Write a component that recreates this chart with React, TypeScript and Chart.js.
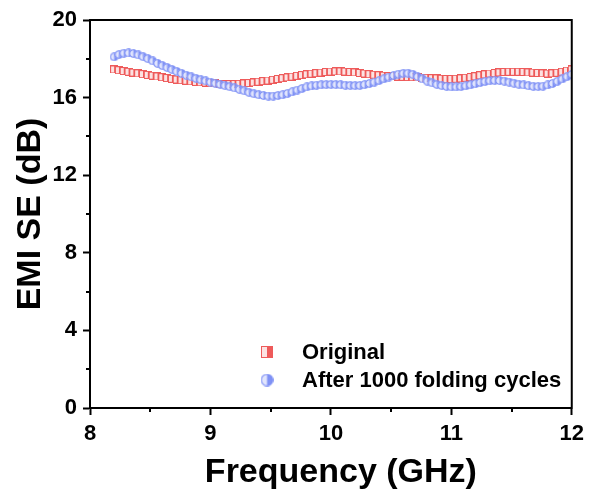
import React, { useEffect, useRef } from "react";
import { Chart, registerables } from "chart.js";

Chart.register(...registerables);

// ---- data ----
const frequencyGHz = [
  8.20, 8.24, 8.28, 8.32, 8.36, 8.40, 8.44, 8.48, 8.52, 8.56,
  8.60, 8.64, 8.68, 8.72, 8.76, 8.80, 8.84, 8.88, 8.92, 8.96,
  9.00, 9.04, 9.08, 9.12, 9.16, 9.20, 9.24, 9.28, 9.32, 9.36,
  9.40, 9.44, 9.48, 9.52, 9.56, 9.60, 9.64, 9.68, 9.72, 9.76,
  9.80, 9.84, 9.88, 9.92, 9.96, 10.00, 10.04, 10.08, 10.12, 10.16,
  10.20, 10.24, 10.28, 10.32, 10.36, 10.40, 10.44, 10.48, 10.52, 10.56,
  10.60, 10.64, 10.68, 10.72, 10.76, 10.80, 10.84, 10.88, 10.92, 10.96,
  11.00, 11.04, 11.08, 11.12, 11.16, 11.20, 11.24, 11.28, 11.32, 11.36,
  11.40, 11.44, 11.48, 11.52, 11.56, 11.60, 11.64, 11.68, 11.72, 11.76,
  11.80, 11.84, 11.88, 11.92, 11.96, 12.00,
];

const originalSE = [
  17.45, 17.41, 17.37, 17.33, 17.29, 17.25, 17.21, 17.17, 17.13, 17.09,
  17.05, 17.01, 16.97, 16.93, 16.90, 16.87, 16.84, 16.81, 16.79, 16.77,
  16.75, 16.73, 16.71, 16.70, 16.70, 16.70, 16.71, 16.73, 16.75, 16.78,
  16.82, 16.85, 16.88, 16.92, 16.96, 17.00, 17.04, 17.08, 17.12, 17.16,
  17.20, 17.23, 17.26, 17.29, 17.32, 17.34, 17.35, 17.35, 17.34, 17.32,
  17.30, 17.27, 17.24, 17.21, 17.18, 17.15, 17.13, 17.11, 17.09, 17.08,
  17.07, 17.06, 17.05, 17.04, 17.03, 17.02, 17.00, 16.99, 16.97, 16.96,
  16.96, 16.97, 16.99, 17.02, 17.06, 17.10, 17.15, 17.20, 17.24, 17.27,
  17.30, 17.32, 17.33, 17.33, 17.33, 17.32, 17.30, 17.29, 17.27, 17.25,
  17.24, 17.25, 17.28, 17.33, 17.39, 17.45,
];

const foldedSE = [
  18.10, 18.22, 18.29, 18.30, 18.27, 18.20, 18.11, 18.01, 17.89, 17.77,
  17.65, 17.55, 17.45, 17.35, 17.25, 17.15, 17.07, 16.99, 16.92, 16.86,
  16.80, 16.74, 16.68, 16.62, 16.56, 16.50, 16.43, 16.35, 16.27, 16.20,
  16.15, 16.11, 16.08, 16.08, 16.11, 16.15, 16.22, 16.30, 16.39, 16.47,
  16.55, 16.60, 16.64, 16.66, 16.67, 16.68, 16.67, 16.66, 16.64, 16.63,
  16.62, 16.63, 16.67, 16.73, 16.80, 16.88, 16.97, 17.06, 17.14, 17.21,
  17.25, 17.26, 17.20, 17.08, 16.96, 16.85, 16.76, 16.68, 16.62, 16.58,
  16.55, 16.55, 16.57, 16.61, 16.66, 16.72, 16.78, 16.83, 16.87, 16.89,
  16.88, 16.85, 16.80, 16.74, 16.69, 16.65, 16.61, 16.58, 16.57, 16.59,
  16.65, 16.73, 16.84, 16.96, 17.08, 17.20,
];

const seriesLabels = ["Original", "After 1000 folding cycles"];
const xAxisTitle = "Frequency (GHz)";
const yAxisTitle = "EMI SE (dB)";
const xTickValues = [8, 9, 10, 11, 12];
const xMinorTicks = [8.5, 9.5, 10.5, 11.5];
const yTickValues = [0, 4, 8, 12, 16, 20];
const yMinorTicks = [2, 6, 10, 14, 18];

// ---- styles ----
const FONT = "'Liberation Sans', Arial, sans-serif";
const RED = "#EE5A5A";
const RED_LIGHT = "#FCE2E2";
const BLUE = "#7F91F5";
const BLUE_LIGHT = "#E1E5FD";

function makeSquare(size: number, solid: string, light: string) {
  const c = document.createElement("canvas");
  c.width = size;
  c.height = size;
  const g = c.getContext("2d")!;
  g.fillStyle = light;
  g.fillRect(0, 0, size, size);
  g.fillStyle = solid;
  g.fillRect(size / 2, 0, size / 2, size);
  g.strokeStyle = solid;
  g.lineWidth = 1;
  g.strokeRect(0.5, 0.5, size - 1, size - 1);
  return c;
}

function makeCircle(size: number, solid: string, light: string) {
  const c = document.createElement("canvas");
  c.width = size;
  c.height = size;
  const g = c.getContext("2d")!;
  const r = size / 2;
  g.beginPath();
  g.moveTo(r, r);
  g.arc(r, r, r - 0.5, Math.PI / 2, Math.PI * 1.5);
  g.closePath();
  g.fillStyle = light;
  g.fill();
  g.beginPath();
  g.moveTo(r, r);
  g.arc(r, r, r - 0.5, -Math.PI / 2, Math.PI / 2);
  g.closePath();
  g.fillStyle = solid;
  g.fill();
  g.beginPath();
  g.arc(r, r, r - 0.75, 0, Math.PI * 2);
  g.strokeStyle = solid;
  g.lineWidth = 1.2;
  g.stroke();
  return c;
}

const frameAndLegend = {
  id: "frameAndLegend",
  afterDraw(chart: any) {
    const { ctx, chartArea } = chart;
    const xs = chart.scales.x;
    const ys = chart.scales.y;
    ctx.save();
    ctx.strokeStyle = "#000";
    ctx.lineWidth = 2;
    // top and right frame
    ctx.beginPath();
    ctx.moveTo(chartArea.left - 1, chartArea.top);
    ctx.lineTo(chartArea.right, chartArea.top);
    ctx.lineTo(chartArea.right, chartArea.bottom + 1);
    ctx.stroke();
    // minor ticks
    ctx.beginPath();
    for (const v of xMinorTicks) {
      const px = Math.round(xs.getPixelForValue(v));
      ctx.moveTo(px, chartArea.bottom);
      ctx.lineTo(px, chartArea.bottom + 4);
    }
    for (const v of yMinorTicks) {
      const py = Math.round(ys.getPixelForValue(v));
      ctx.moveTo(chartArea.left, py);
      ctx.lineTo(chartArea.left - 4, py);
    }
    ctx.stroke();
    // x axis title
    ctx.fillStyle = "#000";
    ctx.font = `bold 34px ${FONT}`;
    ctx.textAlign = "center";
    ctx.textBaseline = "alphabetic";
    ctx.fillText(xAxisTitle, xs.getPixelForValue(10) + 10, 482);
    // legend
    const markers = [makeSquare(12, RED, RED_LIGHT), makeCircle(13, BLUE, BLUE_LIGHT)];
    const rows = [352, 380];
    ctx.font = `bold 22px ${FONT}`;
    ctx.textBaseline = "middle";
    ctx.textAlign = "left";
    seriesLabels.forEach((label, i) => {
      const m = markers[i];
      ctx.drawImage(m, 267 - m.width / 2, rows[i] - m.height / 2);
      ctx.fillText(label, 302, rows[i] + 1);
    });
    ctx.restore();
  },
};

export default function App() {
  const canvasRef = useRef<HTMLCanvasElement | null>(null);

  useEffect(() => {
    if (!canvasRef.current) return;
    const redSquare = makeSquare(8, RED, RED_LIGHT);
    const blueCircle = makeCircle(9, BLUE, BLUE_LIGHT);
    const chart = new Chart(canvasRef.current, {
      type: "scatter",
      data: {
        datasets: [
          {
            label: seriesLabels[0],
            data: frequencyGHz.map((f, i) => ({ x: f, y: originalSE[i] })),
            pointStyle: redSquare as any,
            pointRadius: 4,
            showLine: false,
            order: 1,
          },
          {
            label: seriesLabels[1],
            data: frequencyGHz.map((f, i) => ({ x: f, y: foldedSE[i] })),
            pointStyle: blueCircle as any,
            pointRadius: 4,
            showLine: false,
            order: 0,
          },
        ],
      },
      options: {
        animation: false,
        responsive: false,
        events: [],
        layout: { padding: { top: 20, right: 16, left: 0, bottom: 0 } },
        plugins: { legend: { display: false }, tooltip: { enabled: false } },
        scales: {
          x: {
            type: "linear",
            min: 8,
            max: 12,
            afterFit: (s: any) => {
              s.height = 83;
            },
            afterBuildTicks: (s: any) => {
              s.ticks = xTickValues.map((v) => ({ value: v }));
            },
            ticks: {
              color: "#000",
              font: { family: FONT, size: 22, weight: "bold" },
              padding: 6,
              maxRotation: 0,
            },
            grid: { drawOnChartArea: false, tickLength: 7, tickColor: "#000", tickWidth: 2 },
            border: { color: "#000", width: 2 },
            title: { display: false },
          },
          y: {
            type: "linear",
            min: 0,
            max: 20,
            afterFit: (s: any) => {
              s.width = 90;
            },
            afterBuildTicks: (s: any) => {
              s.ticks = yTickValues.map((v) => ({ value: v }));
            },
            ticks: {
              color: "#000",
              font: { family: FONT, size: 22, weight: "bold" },
              padding: 6,
            },
            grid: { drawOnChartArea: false, tickLength: 7, tickColor: "#000", tickWidth: 2 },
            border: { color: "#000", width: 2 },
            title: {
              display: true,
              text: yAxisTitle,
              color: "#000",
              font: { family: FONT, size: 34, weight: "bold" },
              padding: { top: 10, bottom: 0 },
            },
          },
        },
      },
      plugins: [frameAndLegend],
    } as any);
    return () => chart.destroy();
  }, []);

  return (
    <div style={{ position: "absolute", left: 0, top: 0, width: 590, height: 491, background: "#fff" }}>
      <canvas ref={canvasRef} width={590} height={491} style={{ display: "block" }} />
    </div>
  );
}
